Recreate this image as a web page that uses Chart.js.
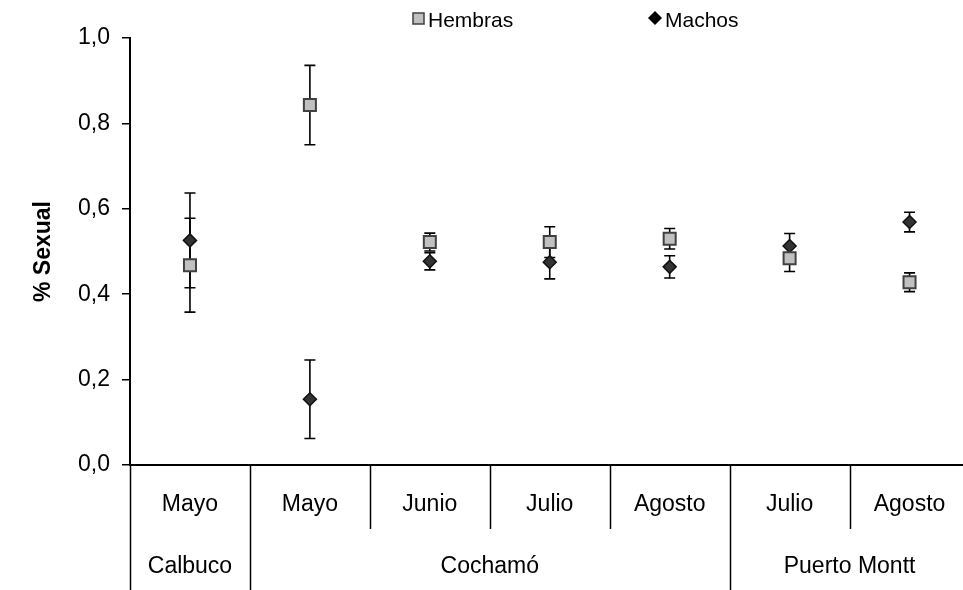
<!DOCTYPE html>
<html>
<head>
<meta charset="utf-8">
<script src="https://cdn.jsdelivr.net/npm/chart.js@4"></script>
<style>
  html, body { margin: 0; padding: 0; background: #fff; overflow: hidden; }
  #wrap { width: 980px; height: 590px; }
</style>
</head>
<body>
<div id="wrap"><canvas id="sexChart" width="980" height="590"></canvas></div>
<script>
// months (first row), sites (second row) and how many months each site spans
const months = ["Mayo", "Mayo", "Junio", "Julio", "Agosto", "Julio", "Agosto"];
const sites = ["Calbuco", "Cochamó", "Puerto Montt"];
const siteSpans = [1, 4, 2];

const hembras = [0.468, 0.843, 0.522, 0.522, 0.530, 0.484, 0.428];
const hembrasErr = [0.110, 0.093, 0.021, 0.036, 0.024, 0.031, 0.022];
const machos = [0.526, 0.154, 0.477, 0.475, 0.464, 0.513, 0.569];
const machosErr = [0.111, 0.092, 0.020, 0.039, 0.026, 0.029, 0.023];

const yTicks = [0, 0.2, 0.4, 0.6, 0.8, 1.0];

const FONT = "'Liberation Sans', Arial, sans-serif";

// error bars, drawn under the markers
const errorBars = {
    id: "errorBars",
    beforeDatasetsDraw(chart) {
        const ctx = chart.ctx;
        const x = chart.scales.x, y = chart.scales.y;
        ctx.save();
        ctx.strokeStyle = "#000";
        ctx.lineWidth = 1.6;
        chart.data.datasets.forEach(ds => {
            ds.data.forEach((v, i) => {
                const e = ds.errors[i];
                const px = x.getPixelForValue(i);
                const top = y.getPixelForValue(v + e);
                const bot = y.getPixelForValue(v - e);
                ctx.beginPath();
                ctx.moveTo(px, top); ctx.lineTo(px, bot);
                ctx.moveTo(px - 5.5, top); ctx.lineTo(px + 5.5, top);
                ctx.moveTo(px - 5.5, bot); ctx.lineTo(px + 5.5, bot);
                ctx.stroke();
            });
        });
        ctx.restore();
    }
};

// two-row category axis and the legend
const extras = {
    id: "extras",
    afterDraw(chart) {
        const ctx = chart.ctx;
        const x = chart.scales.x;
        const area = chart.chartArea;
        const step = x.getPixelForValue(1) - x.getPixelForValue(0);
        const edge = i => x.getPixelForValue(i) - step / 2;
        ctx.save();
        ctx.strokeStyle = "#000";
        ctx.lineWidth = 1.5;

        // separators
        const groupEdges = [0];
        siteSpans.reduce((acc, n) => { groupEdges.push(acc + n); return acc + n; }, 0);
        for (let i = 0; i <= months.length; i++) {
            const px = Math.round(edge(i)) + 0.5;
            const full = groupEdges.includes(i);
            ctx.beginPath();
            ctx.moveTo(px, area.bottom);
            ctx.lineTo(px, full ? chart.height : area.bottom + 64);
            ctx.stroke();
        }

        ctx.fillStyle = "#000";
        ctx.font = "23px " + FONT;
        ctx.textAlign = "center";
        ctx.textBaseline = "middle";
        months.forEach((m, i) => ctx.fillText(m, x.getPixelForValue(i), area.bottom + 40));
        let start = 0;
        sites.forEach((s, k) => {
            const cx = (edge(start) + edge(start + siteSpans[k])) / 2;
            ctx.fillText(s, cx, area.bottom + 102);
            start += siteSpans[k];
        });

        // legend
        ctx.font = "21px " + FONT;
        ctx.textAlign = "left";
        const d0 = chart.data.datasets[0], d1 = chart.data.datasets[1];
        ctx.fillStyle = d0.pointBackgroundColor;
        ctx.strokeStyle = d0.pointBorderColor;
        ctx.lineWidth = 1.5;
        ctx.fillRect(413, 13, 11, 11);
        ctx.strokeRect(413, 13, 11, 11);
        ctx.fillStyle = "#000";
        ctx.fillText(d0.label, 428, 21);
        ctx.fillStyle = "#000";
        ctx.beginPath();
        ctx.moveTo(655, 11); ctx.lineTo(662, 18); ctx.lineTo(655, 25); ctx.lineTo(648, 18);
        ctx.closePath();
        ctx.fill();
        ctx.fillText(d1.label, 665, 21);
        ctx.restore();
    }
};

new Chart(document.getElementById("sexChart"), {
    type: "line",
    data: {
        labels: months,
        datasets: [
            {
                label: "Hembras",
                data: hembras,
                errors: hembrasErr,
                showLine: false,
                pointStyle: "rect",
                pointRadius: 8.5,
                pointHoverRadius: 8.5,
                pointBackgroundColor: "#c0c0c0",
                pointBorderColor: "#404040",
                pointBorderWidth: 2
            },
            {
                label: "Machos",
                data: machos,
                errors: machosErr,
                showLine: false,
                pointStyle: "rectRot",
                pointRadius: 6.5,
                pointHoverRadius: 6.5,
                pointBackgroundColor: "#333333",
                pointBorderColor: "#111111",
                pointBorderWidth: 1.5
            }
        ]
    },
    options: {
        responsive: false,
        animation: false,
        layout: { padding: { top: 38, right: 8, left: 0, bottom: 0 } },
        plugins: {
            legend: { display: false },
            tooltip: { enabled: false }
        },
        scales: {
            x: {
                offset: true,
                grid: { display: false },
                ticks: { display: false },
                border: { display: true, color: "#000", width: 2 },
                afterFit(scale) { scale.height = 125; }
            },
            y: {
                min: 0,
                max: 1,
                afterBuildTicks(scale) { scale.ticks = yTicks.map(v => ({ value: v })); },
                ticks: {
                    color: "#000",
                    font: { family: FONT, size: 23 },
                    padding: 12,
                    callback: v => v.toFixed(1).replace(".", ",")
                },
                grid: { drawOnChartArea: false, color: "#000", tickLength: 8, lineWidth: 1.5 },
                border: { display: true, color: "#000", width: 2 },
                title: {
                    display: true,
                    text: "% Sexual",
                    color: "#000",
                    font: { family: FONT, size: 23, weight: "bold" },
                    padding: { top: 30, bottom: 0 }
                },
                afterFit(scale) { scale.width = 130; }
            }
        }
    },
    plugins: [errorBars, extras]
});
</script>
</body>
</html>
